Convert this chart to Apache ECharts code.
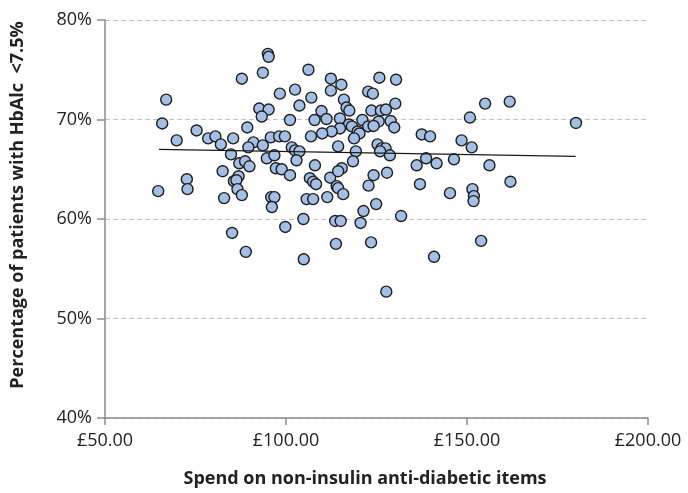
<!DOCTYPE html>
<html><head><meta charset="utf-8">
<script src="https://cdn.jsdelivr.net/npm/echarts@6/dist/echarts.min.js"></script>
<style>html,body{margin:0;padding:0;background:#fff}#c{width:688px;height:493px}</style>
</head><body><div id="c"></div>
<script>
var spend = [95.0,95.2,87.8,93.6,66.9,92.6,95.2,93.3,65.8,75.3,69.8,78.5,80.5,82.0,85.4,89.3,91.0,89.6,93.6,95.8,84.8,87.1,88.7,89.9,94.7,96.8,97.2,82.5,72.6,86.9,64.7,72.8,85.6,86.3,86.6,87.8,82.9,95.9,96.8,96.1,85.1,88.9,
106.2,112.4,115.3,112.4,125.8,130.4,98.3,102.5,107.0,103.7,116.0,122.7,124.0,130.2,109.8,116.7,117.5,123.6,126.2,127.6,101.1,107.9,111.2,114.9,117.4,118.2,121.1,125.6,128.9,129.9,122.7,124.2,119.8,120.3,114.9,112.6,110.0,106.9,98.1,99.7,118.8,114.4,101.6,102.5,103.7,102.9,108.0,119.3,118.5,125.3,126.4,127.5,126.0,128.7,98.8,101.1,106.6,112.2,115.4,114.4,124.2,127.9,107.5,108.3,114.0,114.4,115.8,111.4,105.7,107.5,122.8,124.9,121.4,120.6,131.8,104.8,99.8,113.6,115.1,113.8,123.5,104.9,127.7,
155.0,161.8,150.8,137.5,139.8,148.5,151.3,136.1,138.7,141.6,146.4,156.2,137.0,145.3,151.5,151.9,151.8,162.0,153.9,140.9,180.1];
var pct = [76.6,76.3,74.1,74.7,72.0,71.1,71.0,70.3,69.6,68.9,67.9,68.1,68.3,67.5,68.1,69.2,67.7,67.2,67.4,68.2,66.5,65.6,65.8,65.3,66.1,66.4,65.1,64.8,64.0,64.3,62.8,63.0,63.8,63.9,63.0,62.4,62.1,62.2,62.2,61.2,58.6,56.7,
75.0,74.1,73.5,72.9,74.2,74.0,72.6,73.0,72.2,71.4,72.0,72.8,72.6,71.6,70.85,71.2,70.9,70.9,70.9,71.0,69.95,69.95,70.05,70.1,69.5,69.3,69.95,69.8,69.85,69.2,69.3,69.35,68.8,68.6,69.1,68.8,68.6,68.3,68.3,68.3,68.1,67.3,67.2,66.9,66.8,65.9,65.4,66.8,65.8,67.5,67.1,67.1,66.8,66.4,65.0,64.4,64.1,64.15,65.1,64.8,64.4,64.65,63.75,63.5,63.3,63.1,62.5,62.2,62.0,62.0,63.35,61.5,60.8,59.6,60.3,60.0,59.2,59.8,59.8,57.5,57.65,55.95,52.7,
71.6,71.8,70.2,68.5,68.3,67.9,67.2,65.4,66.1,65.6,66.0,65.4,63.5,62.6,63.0,62.3,61.8,63.75,57.8,56.2,69.65];
var trendX = [64.9, 180.0];
var trendY = [67.0, 66.3];
var yTicks = ['40%','50%','60%','70%','80%'];
var xTicks = ['£50.00','£100.00','£150.00','£200.00'];

var pts = spend.map(function(x,i){return [x,pct[i]];});
var trend = trendX.map(function(x,i){return [x,trendY[i]];});
var FONT = '"Open Sans", "Noto Sans", sans-serif';
var chart = echarts.init(document.getElementById('c'), null, {renderer:'canvas'});
chart.setOption({
  animation:false,
  grid:{left:105,right:40,top:20,bottom:75,containLabel:false},
  xAxis:{type:'value',min:50,max:200,interval:50,
    axisLine:{show:true,onZero:false,lineStyle:{color:'#8c8c8c',width:1.5}},
    axisTick:{show:true,length:7,lineStyle:{color:'#8c8c8c',width:1.5}},
    axisLabel:{color:'#222',fontSize:18,fontFamily:FONT,margin:14,
      formatter:function(v){return xTicks[Math.round((v-50)/50)];}},
    splitLine:{show:false}},
  yAxis:{type:'value',min:40,max:80,interval:10,
    axisLine:{show:true,lineStyle:{color:'#8c8c8c',width:1.5}},
    axisTick:{show:true,length:8,lineStyle:{color:'#8c8c8c',width:1.5}},
    axisLabel:{color:'#222',fontSize:18,fontFamily:FONT,margin:13,
      formatter:function(v){return yTicks[Math.round((v-40)/10)];}},
    splitLine:{show:true,lineStyle:{color:'#c2c2c2',type:[5,3],width:1}}},
  series:[
    {type:'scatter',data:pts,symbol:'circle',symbolSize:11,
     itemStyle:{color:'#a3bfe6',borderColor:'#1e1e1e',borderWidth:1.4,opacity:1},z:2},
    {type:'line',data:trend,showSymbol:false,symbol:'none',
     lineStyle:{color:'#1a1a1a',width:1.3},z:3}
  ],
  graphic:[
    {type:'text',x:18,y:205,rotation:Math.PI/2,style:{text:'Percentage of patients with HbAlc  <7.5%',
      font:'bold 18px '+FONT,fill:'#222',textAlign:'center',textVerticalAlign:'middle'}},
    {type:'text',x:365,y:479,style:{text:'Spend on non-insulin anti-diabetic items',
      font:'bold 18px '+FONT,fill:'#222',textAlign:'center',textVerticalAlign:'middle'}}
  ]
});
</script></body></html>
